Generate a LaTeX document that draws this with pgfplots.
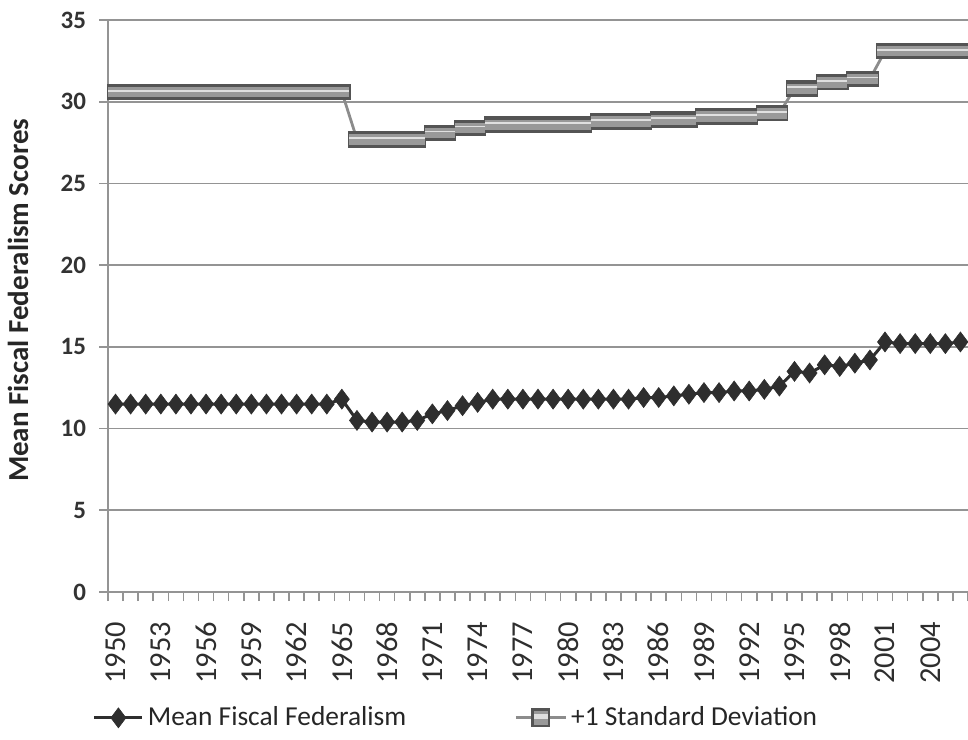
\documentclass[border=0pt]{standalone}
\usepackage{fontspec}
\setmainfont{Carlito}
\usepackage{pgfplots}
\usepackage{pgfplotstable}
\pgfplotsset{compat=1.18}
\definecolor{gridgray}{gray}{0.58}
\definecolor{meancol}{gray}{0.18}
\definecolor{bandedge}{gray}{0.33}
\definecolor{bandmid}{gray}{0.6}
\definecolor{bandhi}{gray}{0.88}
\definecolor{bandline}{gray}{0.55}
\pgfdeclareplotmark{bandout}{\pgfpathrectangle{\pgfpoint{-4.4pt}{-4.1pt}}{\pgfpoint{8.8pt}{8.2pt}}\pgfusepathqfill}
\pgfdeclareplotmark{bandin}{\pgfpathrectangle{\pgfpoint{-3.8pt}{-2.7pt}}{\pgfpoint{7.6pt}{5.2pt}}\pgfusepathqfill}
\pgfdeclareplotmark{bandhl}{\pgfpathrectangle{\pgfpoint{-3.8pt}{0.2pt}}{\pgfpoint{7.6pt}{0.9pt}}\pgfusepathqfill}
\pgfplotsset{
  mylegimg/.style={legend image code/.code={\draw[mark repeat=2,mark phase=2,##1] plot coordinates {(0pt,0pt) (12pt,0pt) (24pt,0pt)};}},
  sdlegimg/.style={legend image code/.code={
    \draw[bandline, line width=1.4pt] (0pt,0pt) -- (25pt,0pt);
    \fill[bandedge] (8.5pt,-4.1pt) rectangle (16.5pt,4.1pt);
    \fill[bandmid] (9.7pt,-2.9pt) rectangle (15.3pt,2.9pt);
    \fill[bandhi] (9.7pt,0.2pt) rectangle (15.3pt,1.1pt);}}
}
\pgfplotstableread{
year mean sd
1950 11.5 30.6
1951 11.5 30.6
1952 11.5 30.6
1953 11.5 30.6
1954 11.5 30.6
1955 11.5 30.6
1956 11.5 30.6
1957 11.5 30.6
1958 11.5 30.6
1959 11.5 30.6
1960 11.5 30.6
1961 11.5 30.6
1962 11.5 30.6
1963 11.5 30.6
1964 11.5 30.6
1965 11.8 30.6
1966 10.5 27.7
1967 10.4 27.7
1968 10.4 27.7
1969 10.4 27.7
1970 10.5 27.7
1971 10.9 28.1
1972 11.1 28.1
1973 11.4 28.4
1974 11.6 28.4
1975 11.8 28.6
1976 11.8 28.6
1977 11.8 28.6
1978 11.8 28.6
1979 11.8 28.6
1980 11.8 28.6
1981 11.8 28.6
1982 11.8 28.8
1983 11.8 28.8
1984 11.8 28.8
1985 11.9 28.8
1986 11.9 28.9
1987 12.0 28.9
1988 12.1 28.9
1989 12.2 29.1
1990 12.2 29.1
1991 12.3 29.1
1992 12.3 29.1
1993 12.4 29.3
1994 12.6 29.3
1995 13.5 30.8
1996 13.4 30.8
1997 13.9 31.2
1998 13.8 31.2
1999 14.0 31.4
2000 14.2 31.4
2001 15.3 33.1
2002 15.2 33.1
2003 15.2 33.1
2004 15.2 33.1
2005 15.2 33.1
2006 15.3 33.1
}\datatable
\begin{document}
\begin{tikzpicture}
\path[use as bounding box] (-54pt,-73.5pt) rectangle (430pt,296pt);
\begin{axis}[
  scale only axis,
  width=430pt, height=286pt,
  xmin=1949.5, xmax=2006.5,
  ymin=0, ymax=35,
  axis x line*=bottom, axis y line*=left,
  axis line style={draw=gridgray, line width=0.8pt},
  ytick={0,5,...,35},
  ymajorgrids,
  grid style={draw=gridgray, line width=0.8pt},
  tick align=outside,
  major tick length=4.5pt,
  tick style={draw=gridgray, line width=0.8pt},
  xtick={1949.5,1950.5,...,2006.5},
  xticklabels={},
  extra x ticks={1950,1953,...,2004},
  extra x tick labels={1950,1953,1956,1959,1962,1965,1968,1971,1974,1977,1980,1983,1986,1989,1992,1995,1998,2001,2004},
  extra x tick style={major tick length=0pt, xticklabel style={rotate=90, anchor=east, xshift=-11.5pt, font=\fontsize{15.2}{17}\selectfont, text=black!82}},
  yticklabel style={/pgf/number format/assume math mode=true, xshift=-3pt, font=\fontsize{12.5}{14}\selectfont\bfseries, text=black!80},
  ylabel={Mean Fiscal Federalism Scores},
  every axis y label/.style={at={(axis description cs:-0.1047,0.51)}, rotate=90, anchor=center, font=\fontsize{14.5}{16}\selectfont\bfseries, text=black!85},
  legend style={at={(axis description cs:-0.025,-0.22)}, anchor=west, draw=none, fill=none, font=\fontsize{13.7}{16}\selectfont, text=black!85, legend columns=2, /tikz/every even column/.append style={column sep=52pt}},
  legend cell align=left,
]
\addplot[draw=meancol, line width=1.5pt, mark=diamond*, mark size=5pt, mark options={fill=meancol, draw=meancol, line width=0.3pt}, mylegimg]
  table[x=year, y=mean] {\datatable};
\addlegendentry{Mean Fiscal Federalism}
\addplot[draw=bandline, line width=1.4pt, mark=bandout, mark options={fill=bandedge, draw=none}, sdlegimg]
  table[x=year, y=sd] {\datatable};
\addlegendentry{+1 Standard Deviation}
\addplot[forget plot, only marks, mark=bandin, mark options={fill=bandmid, draw=none}]
  table[x=year, y=sd] {\datatable};
\addplot[forget plot, only marks, mark=bandhl, mark options={fill=bandhi, draw=none}]
  table[x=year, y=sd] {\datatable};
\end{axis}
\end{tikzpicture}
\end{document}
